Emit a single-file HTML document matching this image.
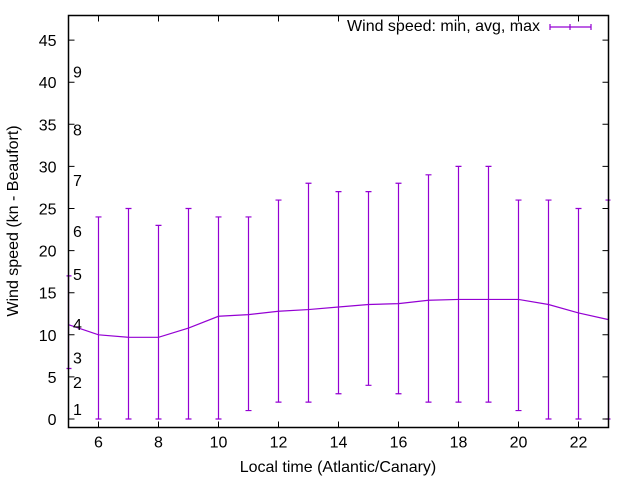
<!DOCTYPE html>
<html><head><meta charset="utf-8"><style>
body{margin:0;background:#fff}
svg{display:block;font-family:"Liberation Sans",sans-serif}
</style></head><body>
<svg id="c" width="640" height="480">
<rect width="640" height="480" fill="#fff"/>
<g id="marks"></g>
<g id="axes"></g>
<text x="18" y="221" font-size="16" text-anchor="middle" transform="rotate(-90 18 221)">Wind speed (kn - Beaufort)</text>
<text x="338" y="472" font-size="16" text-anchor="middle">Local time (Atlantic/Canary)</text>
<g>
<text x="540" y="31" font-size="16" text-anchor="end">Wind speed: min, avg, max</text>
<path d="M550 27H591M550 24V30M591 24V30M570 24V30" stroke="#9400d3" stroke-width="1.2" fill="none"/>
</g>
</svg>
<script>
const hours=[5,6,7,8,9,10,11,12,13,14,15,16,17,18,19,20,21,22,23];
const avgs=[11.2,10.0,9.7,9.7,10.8,12.2,12.4,12.8,13.0,13.3,13.6,13.7,14.1,14.2,14.2,14.2,13.6,12.6,11.8];
const mins=[6,0,0,0,0,0,1,2,2,3,4,3,2,2,2,1,0,0,0];
const maxs=[17,24,25,23,25,24,24,26,28,27,27,28,29,30,30,26,26,25,26];
const xTicks=[6,8,10,12,14,16,18,20,22];
const yTicks=[0,5,10,15,20,25,30,35,40,45];
const bftLabels=["1","2","3","4","5","6","7","8","9"];
const bftVals=[1.2,4.4,7.3,11.3,17.2,22.3,28.4,34.4,41.3];
const L=68.5,R=608.5,T=15.5,B=427.5;
const X=h=>L+(h-5)*(R-L)/18;
const Y=v=>419-v*8.42;
const NS="http://www.w3.org/2000/svg";
function mk(tag,attrs,parent){const e=document.createElementNS(NS,tag);for(const k in attrs)e.setAttribute(k,attrs[k]);parent.appendChild(e);return e;}
const ax=document.getElementById('axes'),mg=document.getElementById('marks');
const box=mk('rect',{x:L,y:T,width:R-L,height:B-T,fill:'none',stroke:'#000','stroke-width':1.5},ax);


yTicks.forEach(v=>{const y=Y(v);
const t=mk('path',{d:`M${L} ${y}h6M${R} ${y}h-6`,stroke:'#000'},ax);


const tx=mk('text',{x:L-12,y:y+6,'font-size':16,'text-anchor':'end'},ax);tx.textContent=v;

});
xTicks.forEach(h=>{const x=X(h);
const t=mk('path',{d:`M${x} ${B}v-6M${x} ${T}v6`,stroke:'#000'},ax);


const tx=mk('text',{x:x,y:B+20,'font-size':16,'text-anchor':'middle'},ax);tx.textContent=h;

});
bftLabels.forEach((s,i)=>{const tx=mk('text',{x:73,y:Y(bftVals[i])+6,'font-size':16},ax);tx.textContent=s;

});
const c='#9400d3';
hours.forEach((h,i)=>{const x=X(h),cx0=Math.max(L-2,x-3),cx1=Math.min(R+2,x+3);
const p=mk('path',{d:`M${x} ${Y(mins[i])}V${Y(maxs[i])}M${cx0} ${Y(mins[i])}H${cx1}M${cx0} ${Y(maxs[i])}H${cx1}`,stroke:c,'stroke-width':1.2,fill:'none'},mg);

});
const line=mk('polyline',{points:hours.map((h,i)=>X(h)+','+Y(avgs[i])).join(' '),stroke:c,'stroke-width':1.2,fill:'none'},mg);


</script>
</body></html>
